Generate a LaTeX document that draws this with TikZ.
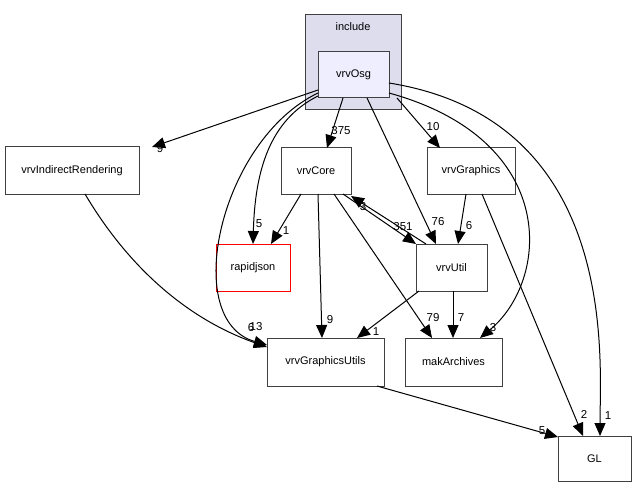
\documentclass[tikz,border=0pt]{standalone}
\usepackage{fontspec}
\setmainfont{Liberation Sans}
\usetikzlibrary{arrows.meta}
\begin{document}
\begin{tikzpicture}[x=1pt,y=-1pt,
  box/.style={draw=black!75,line width=1pt,fill=white,inner sep=0pt,font=\fontsize{11}{13}\selectfont},
  dep/.style={-{Triangle[length=13pt,width=11pt]},line width=1pt},
  lab/.style={font=\fontsize{11.5}{13}\selectfont,inner sep=0pt}]
\useasboundingbox (0,0) rectangle (636,489);
\fill[fill={rgb,255:red,221;green,221;blue,238},draw=black!75,line width=1pt] (305,15) rectangle (401,110);
\node[lab,font=\fontsize{11}{13}\selectfont] (inc) at (353,27) {include};
\node[box,fill={rgb,255:red,238;green,238;blue,255},minimum width=71pt,minimum height=46pt] (osg) at (353.5,75) {vrvOsg};
\node[box,minimum width=134pt,minimum height=47pt] (ir) at (72,170.5) {vrvIndirectRendering};
\node[box,minimum width=70pt,minimum height=46pt] (core) at (316,171) {vrvCore};
\node[box,minimum width=88pt,minimum height=46pt] (gr) at (471,171) {vrvGraphics};
\node[box,draw=red,minimum width=74pt,minimum height=47pt] (rj) at (253,267.5) {rapidjson};
\node[box,minimum width=71pt,minimum height=47pt] (ut) at (451.5,267.5) {vrvUtil};
\node[box,minimum width=117pt,minimum height=48pt] (gu) at (325.5,362) {vrvGraphicsUtils};
\node[box,minimum width=97pt,minimum height=48pt] (mak) at (453.5,362) {makArchives};
\node[box,minimum width=73pt,minimum height=45pt] (gl) at (594.5,458.5) {GL};
% edges from vrvOsg
\draw[dep] (318,90) -- (152,147);
\node[lab] at (160,149) {9};
\draw[dep] (343,98) -- (327,148);
\node[lab] at (341,131) {375};
\draw[dep] (397,98) -- (440,148);
\node[lab] at (433,127) {10};
\draw[dep] (318,96) .. controls (270,120) and (255,170) .. (253,244);
\node[lab] at (259,224) {5};
\draw[dep] (367,98) -- (436,244);
\node[lab] at (438,222) {76};
\draw[dep] (318,93) .. controls (220,140) and (180,320) .. (267,345);
\node[lab] at (256,327) {13};
\draw[dep] (389,93) .. controls (560,140) and (550,280) .. (480,338);
\node[lab] at (493,328) {3};
\draw[dep] (389,83) .. controls (620,120) and (600,360) .. (600,436);
\node[lab] at (608,416) {1};
% others
\draw[dep] (85,194) .. controls (130,270) and (190,320) .. (267,347);
\node[lab] at (251,328) {6};
\draw[dep] (301,194) -- (271,244);
\node[lab] at (286,231) {1};
\draw[dep] (343,194) -- (416,244);
\node[lab] at (403,227) {351};
\draw[dep] (426,244) -- (351,196);
\node[lab] at (363,207) {3};
\draw[dep] (318,194) -- (322,338);
\node[lab] at (330,320) {9};
\draw[dep] (334,194) -- (432,338);
\node[lab] at (433,318) {79};
\draw[dep] (466,194) -- (458,244);
\node[lab] at (469,226) {6};
\draw[dep] (482,194) -- (583,436);
\node[lab] at (584,414) {2};
\draw[dep] (419,291) -- (357,338);
\node[lab] at (376,332) {1};
\draw[dep] (453,291) -- (453,338);
\node[lab] at (461,318) {7};
\draw[dep] (377,386) -- (558,437);
\node[lab] at (542,431) {5};
\end{tikzpicture}
\end{document}
